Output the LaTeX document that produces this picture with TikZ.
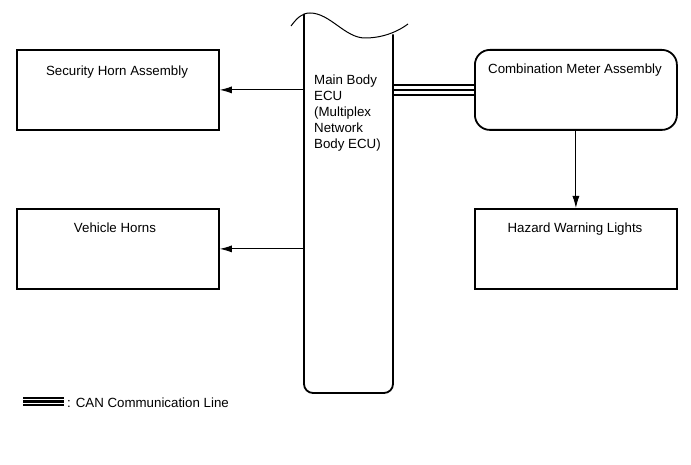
\documentclass[tikz,border=0pt]{standalone}
\usepackage{fontspec}
\setmainfont{Liberation Sans}
\usetikzlibrary{arrows.meta}
\begin{document}
\begin{tikzpicture}[x=1pt,y=-1pt,
  box/.style={draw,line width=1.8pt,minimum width=202pt,minimum height=80pt,anchor=north west,inner sep=0pt},
  rbox/.style={box,rounded corners=15pt},
  lbl/.style={font=\fontsize{13.3}{16}\selectfont,inner sep=0pt,anchor=center},
  conn/.style={line width=0.9pt,-{Latex[length=12pt,width=7pt]}},
  can/.style={line width=1.5pt}]
\useasboundingbox (0,0) rectangle (691,465);
% boxes
\node[box] (sec) at (16,49) {};
\node[box] (vh) at (16,208) {};
\node[rbox] (cmb) at (474,49) {};
\node[box] (haz) at (474,208) {};
\node[lbl] (sect) at (117,72) {Security Horn Assembly};
\node[lbl] (vht) at (115,228) {Vehicle Horns};
\node[lbl] (cmbt) at (575,70) {Combination Meter Assembly};
\node[lbl] (hazt) at (575,229) {Hazard Warning Lights};
% ECU body
\node[draw=none,minimum width=89pt,minimum height=360pt,anchor=north west,inner sep=0pt] (ecu) at (304,33) {};
\draw[line width=1.8pt,rounded corners=9pt] (304,14) -- (304,393) -- (393,393) -- (393,34.5);
\draw[line width=1pt] (291,26) .. controls (297,18) and (302,13) .. (310,13)
  .. controls (330,13) and (345,38) .. (365,38) .. controls (385,38) and (400,30) .. (408,24);
\node[lbl,anchor=north west,align=left] (ecut) at (314,74.5) {Main Body\\ECU\\(Multiplex\\Network\\Body ECU)};
% connectors
\draw[conn] (ecu.west |- sec.east) -- (sec.east);
\draw[conn] (ecu.west |- vh.east) -- (vh.east);
\draw[conn] (cmb.south) -- (haz.north);
\draw[can] ([yshift=-5pt]ecu.east |- cmb.west) -- ([yshift=-5pt]cmb.west);
\draw[can] (ecu.east |- cmb.west) -- (cmb.west);
\draw[can] ([yshift=5pt]ecu.east |- cmb.west) -- ([yshift=5pt]cmb.west);
% legend
\coordinate (lg1) at (23,401.5);
\coordinate (lg2) at (64,401.5);
\draw[line width=2.2pt] ([yshift=-3.6pt]lg1) -- ([yshift=-3.6pt]lg2);
\draw[line width=2.2pt] (lg1) -- (lg2);
\draw[line width=2.2pt] ([yshift=3.6pt]lg1) -- ([yshift=3.6pt]lg2);
\node[lbl,anchor=west] (lgt) at (67,403) {: CAN Communication Line};
\end{tikzpicture}
\end{document}
